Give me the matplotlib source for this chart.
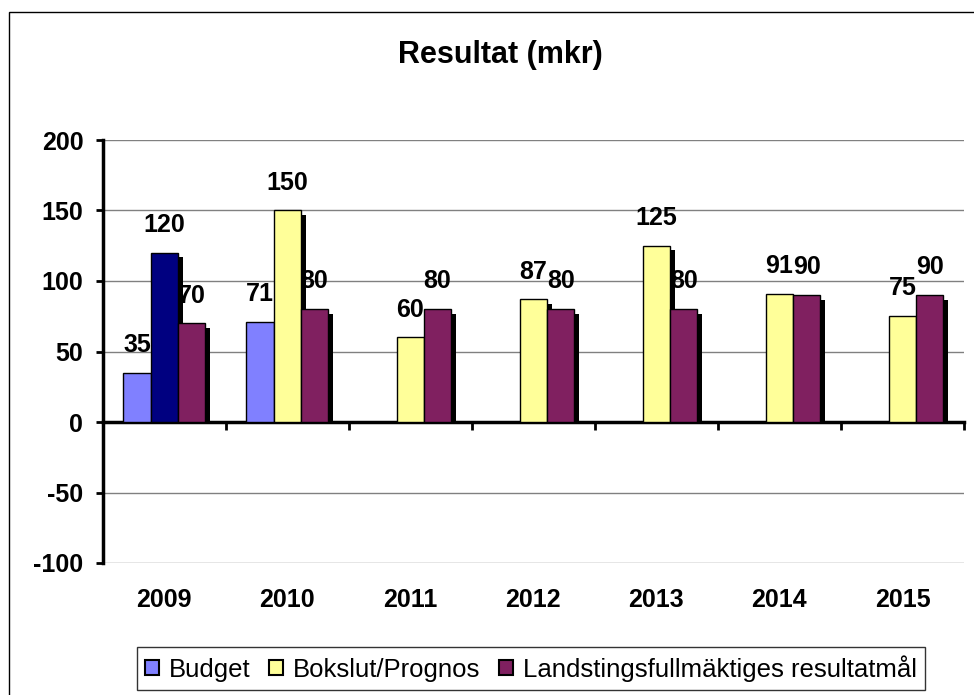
import numpy as np
import matplotlib.pyplot as plt
from matplotlib.patches import Rectangle

plt.rcParams['font.family'] = ['Liberation Sans', 'DejaVu Sans']
plt.rcParams['axes.unicode_minus'] = False

# data
years = ["2009", "2010", "2011", "2012", "2013", "2014", "2015"]
budget = [35, 71, np.nan, np.nan, np.nan, np.nan, np.nan]
bokslut = [120, 150, 60, 87, 125, 91, 75]
mal = [70, 80, 80, 80, 80, 90, 90]
series_names = ["Budget", "Bokslut/Prognos", "Landstingsfullmäktiges resultatmål"]

col_budget = "#8080FF"
col_bokslut = "#FFFF99"
col_mal = "#802060"
col_2009 = "#000080"

fig = plt.figure(figsize=(9.74, 6.95), dpi=100)
ax = fig.add_axes([102.7 / 974, 1 - 563 / 695, (964 - 102.7) / 974, 423 / 695])

x = np.arange(len(years))
w = 0.222
# shadow offset (right / down) in data units
sdx = 5 / 123
sdy = 4.5 / 1.41

series = [
    (budget, [col_budget] * 7, -w),
    (bokslut, [col_2009] + [col_bokslut] * 6, 0),
    (mal, [col_mal] * 7, w),
]

for vals, cols, off in series:
    vals = np.array(vals, dtype=float)
    ax.bar(x + off + sdx, vals - sdy, w, color="black", zorder=2.9)
    ax.bar(x + off, vals, w, color=cols, edgecolor="black", linewidth=1.0, zorder=3)
    for xi, v in zip(x + off, vals):
        if np.isnan(v):
            continue
        ax.annotate(f"{v:.0f}", (xi, v), xytext=(0, 20), textcoords="offset points",
                    ha="center", va="center", fontsize=18, fontweight="bold", zorder=2.5)

ax.set_xlim(-0.5, 6.5)
ax.set_ylim(-100, 200)
ax.set_yticks(np.arange(-100, 201, 50))
ax.yaxis.grid(True, color="#808080", linewidth=1)
ax.set_axisbelow(True)
ax.tick_params(axis="y", direction="out", length=5, width=2, pad=9,
               labelsize=18)
for lab in ax.get_yticklabels():
    lab.set_fontweight("bold")

ax.spines["top"].set_visible(False)
ax.spines["right"].set_visible(False)
ax.spines["left"].set_linewidth(2.5)
ax.spines["bottom"].set_linewidth(2.5)
ax.spines["bottom"].set_position(("data", 0))
ax.set_xticks(np.arange(-0.5, 7, 1))
ax.set_xticklabels([])
ax.tick_params(axis="x", direction="out", length=6, width=2)

for xi, yr in zip(x, years):
    ax.text(xi, -0.0875, yr, transform=ax.get_xaxis_transform(), ha="center",
            va="center", fontsize=18, fontweight="bold")

fig.text(500 / 974, 1 - 55 / 695, "Resultat (mkr)", ha="center", va="center",
         fontsize=22, fontweight="bold")

handles = [Rectangle((0, 0), 1, 1, facecolor=c, edgecolor="black", linewidth=1.5)
           for c in [col_budget, col_bokslut, col_mal]]
leg = fig.legend(handles, series_names, loc="center", ncol=3,
                 bbox_to_anchor=(531 / 974, 1 - 668.5 / 695),
                 fontsize=18.5, frameon=True, fancybox=False, handlelength=0.55,
                 handleheight=0.55, handletextpad=0.4, columnspacing=0.7,
                 borderpad=0.3, borderaxespad=0)
leg.get_frame().set_edgecolor("black")
leg.get_frame().set_linewidth(1)

# outer chart border
fig.patches.append(Rectangle((9 / 974, -0.01), 1.0, (695 - 12) / 695 + 0.01,
                             transform=fig.transFigure, fill=False,
                             edgecolor="black", linewidth=1))

fig.savefig("out.png", dpi=100)
